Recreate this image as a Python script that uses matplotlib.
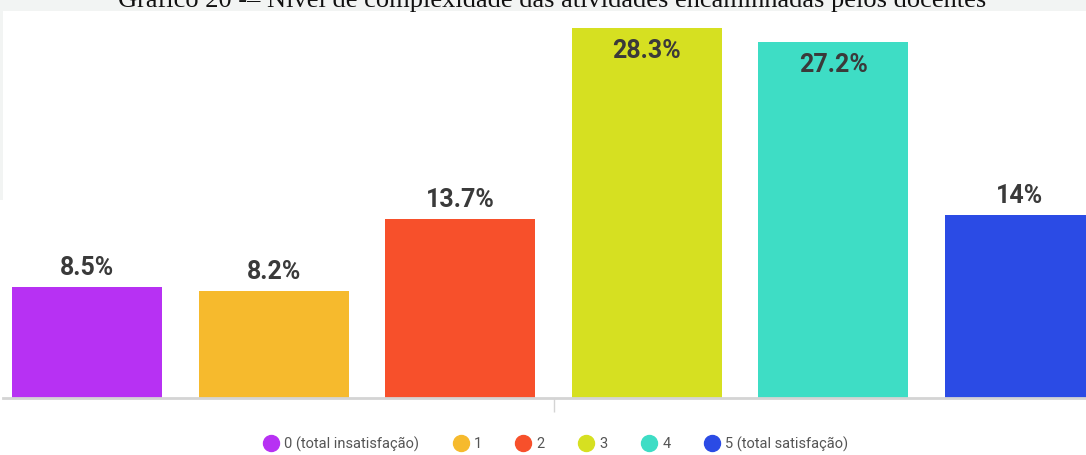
import matplotlib
matplotlib.use("Agg")
import matplotlib.pyplot as plt
from matplotlib.lines import Line2D
from matplotlib.patches import Rectangle

categories = ["0 (total insatisfação)", "1", "2", "3", "4", "5 (total satisfação)"]
values = [8.5, 8.2, 13.7, 28.3, 27.2, 14.0]
labels = ["8.5%", "8.2%", "13.7%", "28.3%", "27.2%", "14%"]
colors = ["#B731F3", "#F6BA2D", "#F7502B", "#D6E021", "#3EDDC5", "#2B4BE5"]
title = "Gráfico 20 -– Nível de complexidade das atividades encaminhadas pelos docentes"

W, H = 1086, 455
fig = plt.figure(figsize=(W / 100, H / 100), dpi=100)
fig.patch.set_facecolor("white")

# light strip behind title and at left edge
fig.patches.append(Rectangle((0, 1 - 11 / H), 1, 11 / H, transform=fig.transFigure,
                             facecolor="#f2f4f3", edgecolor="none", zorder=0))
fig.patches.append(Rectangle((0, 1 - 200 / H), 3 / W, 189 / H, transform=fig.transFigure,
                             facecolor="#f2f4f3", edgecolor="none", zorder=0))

# axes: pixel box x 3..1086, y 11..398 (from top)
ax = fig.add_axes([3 / W, (H - 398) / H, (W - 3) / W, (398 - 11) / H])
ax.set_facecolor("white")
pitch = 186.6
c0 = 87.0
x0 = (3 - c0) / pitch
x1 = (W - c0) / pitch
ax.set_xlim(x0, x1)
ypx = 13.07
ax.set_ylim(0, (398 - 11) / ypx)

xs = list(range(len(values)))
ax.bar(xs, values, width=150 / pitch, color=colors, zorder=2)

for x, v, lab in zip(xs, values, labels):
    off = -21.6 if v > 25 else 8.6
    ax.annotate(lab, (x, v), xytext=(0, off), textcoords="offset points",
                ha="center", va="baseline", fontsize=18, fontweight="bold",
                color="#3a3a3a", family="Roboto", zorder=3)

for s in ["top", "right", "left"]:
    ax.spines[s].set_visible(False)
ax.spines["bottom"].set_color("#d4d4d4")
ax.spines["bottom"].set_linewidth(2)
ax.set_yticks([])
ax.set_xticks([2.5])
ax.set_xticklabels([""])
ax.tick_params(axis="x", length=10, width=1, color="#d4d4d4")

fig.text(552 / W, 1 - 7 / H, title, ha="center", va="baseline",
         family="Liberation Serif", fontsize=19, color="#111111")

handles = [Line2D([], [], marker="o", linestyle="none", markersize=11.5,
                  markerfacecolor=c, markeredgecolor=c) for c in colors]
leg = fig.legend(handles, categories, loc="center", bbox_to_anchor=(556 / W, 1 - 444 / H),
                 ncol=6, frameon=False, handletextpad=0.4, columnspacing=2.35,
                 handlelength=1.0, prop={"family": "Roboto", "size": 10.5})
for t in leg.get_texts():
    t.set_color("#555555")

fig.savefig("out.png", dpi=100)
